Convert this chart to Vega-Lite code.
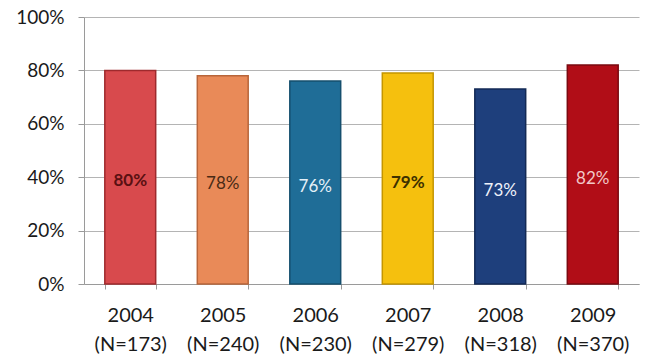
{
  "$schema": "https://vega.github.io/schema/vega-lite/v6.json",
  "width": 555,
  "height": 267,
  "autosize": {"type": "none"},
  "padding": {"left": 84, "top": 17, "right": 7, "bottom": 76},
  "background": "#ffffff",
  "config": {
    "view": {"stroke": null},
    "font": "Lato",
    "axis": {"labelFont": "Lato", "labelColor": "#1a1a1a"}
  },
  "data": {
    "values": [
      {"year": "2004", "n": "(N=173)", "pct": 0.80},
      {"year": "2005", "n": "(N=240)", "pct": 0.78},
      {"year": "2006", "n": "(N=230)", "pct": 0.76},
      {"year": "2007", "n": "(N=279)", "pct": 0.79},
      {"year": "2008", "n": "(N=318)", "pct": 0.73},
      {"year": "2009", "n": "(N=370)", "pct": 0.82}
    ]
  },
  "transform": [
    {"calculate": "datum.year + '|' + datum.n", "as": "cat"},
    {"calculate": "datum.pct / 2", "as": "mid"}
  ],
  "encoding": {
    "x": {
      "field": "cat",
      "type": "nominal",
      "sort": null,
      "scale": {"paddingInner": 0.45, "paddingOuter": 0.225},
      "axis": {
        "title": null,
        "labelAngle": 0,
        "labelExpr": "isValid(datum.value) ? split(datum.value, '|') : ''",
        "labelFontSize": 20,
        "labelLineHeight": 29,
        "labelPadding": 16,
        "tickBand": "extent",
        "tickSize": 5,
        "tickColor": "#9a9a9a",
        "domainColor": "#9a9a9a",
        "grid": false
      }
    }
  },
  "layer": [
    {
      "mark": {"type": "bar", "strokeWidth": 1.5},
      "encoding": {
        "y": {
          "field": "pct",
          "type": "quantitative",
          "scale": {"domain": [0, 1]},
          "axis": {
            "title": null,
            "format": ".0%",
            "values": [0, 0.2, 0.4, 0.6, 0.8, 1],
            "labelFontSize": 19,
            "labelPadding": 14,
            "tickSize": 6,
            "tickColor": "#9a9a9a",
            "domainColor": "#9a9a9a",
            "gridColor": "#b4b4b4",
            "gridWidth": 1
          }
        },
        "fill": {
          "field": "year",
          "type": "nominal",
          "legend": null,
          "scale": {
            "domain": ["2004", "2005", "2006", "2007", "2008", "2009"],
            "range": ["#d84a4d", "#e98a58", "#1f6d97", "#f5c00e", "#1e3f7c", "#b10d17"]
          }
        },
        "stroke": {
          "field": "year",
          "type": "nominal",
          "legend": null,
          "scale": {
            "domain": ["2004", "2005", "2006", "2007", "2008", "2009"],
            "range": ["#9e2a2d", "#b8653a", "#154f6e", "#c49500", "#132a55", "#7a0a10"]
          }
        }
      }
    },
    {
      "transform": [{"filter": "datum.year == '2004' || datum.year == '2007'"}],
      "mark": {"type": "text", "fontSize": 17, "fontWeight": "bold", "dy": 4},
      "encoding": {
        "y": {"field": "mid", "type": "quantitative"},
        "text": {"field": "pct", "type": "quantitative", "format": ".0%"},
        "color": {
          "field": "year",
          "type": "nominal",
          "legend": null,
          "scale": {
            "domain": ["2004", "2005", "2006", "2007", "2008", "2009"],
            "range": ["#5a1012", "#4a2a15", "#e4f0f8", "#3d3000", "#eef2fa", "#f2c8c8"]
          }
        }
      }
    },
    {
      "transform": [{"filter": "datum.year != '2004' && datum.year != '2007'"}],
      "mark": {"type": "text", "fontSize": 17, "dy": 4},
      "encoding": {
        "y": {"field": "mid", "type": "quantitative"},
        "text": {"field": "pct", "type": "quantitative", "format": ".0%"},
        "color": {
          "field": "year",
          "type": "nominal",
          "legend": null,
          "scale": {
            "domain": ["2004", "2005", "2006", "2007", "2008", "2009"],
            "range": ["#5a1012", "#4a2a15", "#e4f0f8", "#3d3000", "#eef2fa", "#f2c8c8"]
          }
        }
      }
    }
  ]
}
